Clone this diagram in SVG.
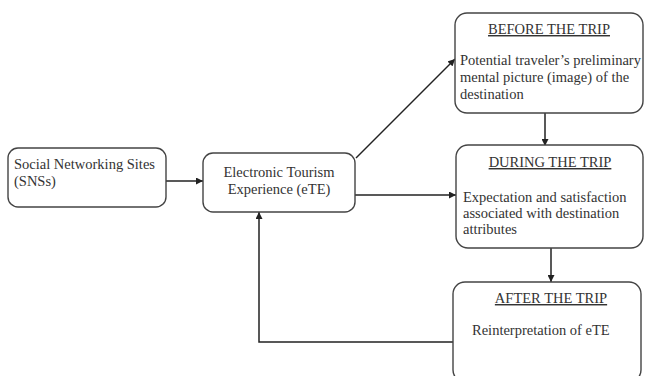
<svg xmlns="http://www.w3.org/2000/svg" width="645" height="376" viewBox="0 0 645 376">
<defs>
<marker id="ah" viewBox="0 0 10 10" refX="10" refY="5" markerWidth="8" markerHeight="7" markerUnits="userSpaceOnUse" orient="auto"><path d="M0,0 L10,5 L0,10 z" fill="#222"/></marker>
</defs>
<style>
.box{fill:#fff;stroke:#444;stroke-width:1.4}
.t{font-family:"Liberation Serif","Times New Roman",serif;font-size:14.5px;fill:#333}
.h{text-decoration:underline}
.c{fill:none;stroke:#222;stroke-width:1.5}
</style>
<rect width="645" height="376" fill="#fff"/>
<g id="connectors">
<line class="c" x1="166" y1="181" x2="203" y2="181" marker-end="url(#ah)"/>
<line class="c" x1="356" y1="158" x2="455" y2="59" marker-end="url(#ah)"/>
<line class="c" x1="355" y1="195" x2="456" y2="195" marker-end="url(#ah)"/>
<line class="c" x1="545" y1="113" x2="545" y2="146" marker-end="url(#ah)"/>
<line class="c" x1="551" y1="248" x2="551" y2="282" marker-end="url(#ah)"/>
<polyline class="c" points="453,342 259,342 259,212" marker-end="url(#ah)"/>
</g>
<g id="sns">
<rect class="box" x="8" y="148" width="158" height="59" rx="10"/>
<text class="t" x="14" y="169">Social Networking Sites</text>
<text class="t" x="14" y="186">(SNSs)</text>
</g>
<g id="ete">
<rect class="box" x="203" y="153" width="152" height="59" rx="10"/>
<text class="t" x="279" y="177" text-anchor="middle">Electronic Tourism</text>
<text class="t" x="279" y="194" text-anchor="middle">Experience (eTE)</text>
</g>
<g id="before">
<rect class="box" x="455" y="13" width="188" height="100" rx="12"/>
<text class="t h" x="549" y="34" text-anchor="middle">BEFORE THE TRIP</text>
<text class="t" x="460" y="65">Potential traveler’s preliminary</text>
<text class="t" x="460" y="82">mental picture (image) of the</text>
<text class="t" x="460" y="99">destination</text>
</g>
<g id="during">
<rect class="box" x="456" y="145" width="187" height="103" rx="12"/>
<text class="t h" x="550" y="167" text-anchor="middle">DURING THE TRIP</text>
<text class="t" x="463" y="202">Expectation and satisfaction</text>
<text class="t" x="463" y="218">associated with destination</text>
<text class="t" x="463" y="234">attributes</text>
</g>
<g id="after">
<rect class="box" x="453" y="282" width="188" height="100" rx="12"/>
<text class="t h" x="551" y="303" text-anchor="middle">AFTER THE TRIP</text>
<text class="t" x="472" y="335">Reinterpretation of eTE</text>
</g>
</svg>
